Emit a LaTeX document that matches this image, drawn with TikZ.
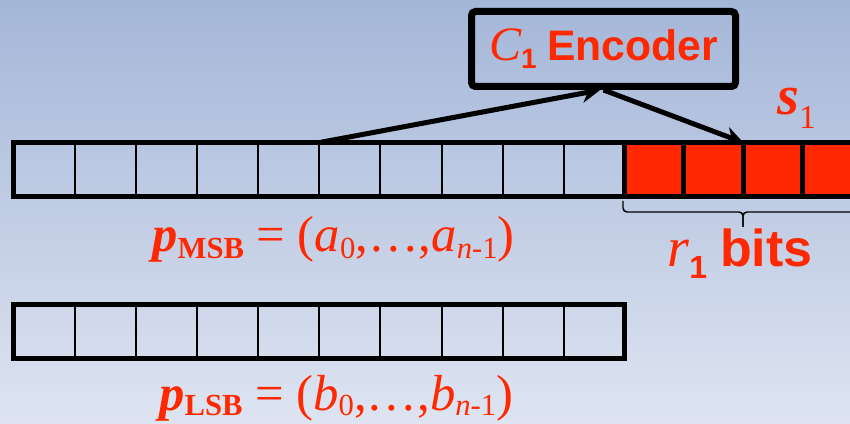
\documentclass[tikz,border=0pt]{standalone}
\usepackage{fontspec}
\setmainfont{Liberation Serif}
\setsansfont{Liberation Sans}
\usetikzlibrary{arrows.meta,positioning}
\definecolor{slideTop}{RGB}{164,182,216}
\definecolor{slideBottom}{RGB}{222,228,241}
\definecolor{bitRed}{RGB}{255,40,0}
% lowered index: shift, size, text
\newcommand{\lowsub}[3]{\raisebox{-#1}{\fontsize{#2}{#2}\selectfont #3}}

\begin{document}
\begin{tikzpicture}[
  x=0.75pt, y=-0.75pt,
  cell/.style={
    draw,
    line width=1.5pt,
    minimum width=45.8pt,
    minimum height=40.1pt,
    inner sep=0pt,
    outer sep=0pt
  },
  redcell/.style={cell,fill=bitRed,line width=3.75pt,minimum width=44.5pt},
  frame/.style={line width=3.75pt},
  encbox/.style={
    draw,
    line width=5.25pt,
    rounded corners=3pt,
    minimum width=198pt,
    minimum height=56.25pt,
    inner sep=0pt,
    text=bitRed
  },
  lbl/.style={text=bitRed,inner sep=0pt},
  bracket/.style={line width=1.1pt,rounded corners=3pt},
  arrow/.style={-{Stealth[length=14pt,width=14pt]},line width=3.75pt}
]
  \shade[top color=slideTop,bottom color=slideBottom] (0,0) rectangle (850,424);
  \useasboundingbox (0,0) rectangle (850,424);

  % MSB row, LSB row
  \foreach \i in {0,...,9} {
    \node[cell] (m\i) at ({44.4+61.1*\i},169.3) {};
    \node[cell] (l\i) at ({44.4+61.1*\i},331.5) {};
  }
  \draw[frame] (m9.north east) -- (m0.north west) -- (m0.south west) -- (m9.south east);
  \draw[frame] (l0.north west) rectangle (l9.south east);
  \foreach \i in {1,...,4}
    \node[redcell] (r\i) at ({624.7+59.3*(\i-0.5)},169.3) {};

  \node[encbox] (enc) at (603.5,49)
    {\fontsize{32}{36}\selectfont{\fontsize{36}{36}\selectfont\itshape C}\lowsub{6pt}{21}{\sffamily\bfseries 1} \sffamily\bfseries Encoder};
  \draw[arrow] (m4.north east) -- ([xshift=-2.5pt]enc.south);
  \draw[arrow] (enc.south) -- (r2.north east);

  \node[lbl,anchor=base west] (sone) at (777,115)
    {\fontsize{42}{46}\selectfont{\bfseries\itshape s}\lowsub{10pt}{25}{1}};

  \coordinate (tip) at (743,227);
  \draw[bracket] (623,201) |- (743,212) -- (tip);
  \draw[bracket] (880,201) |- (743,212) -- (tip);
  \node[lbl,anchor=base] (rbits) at (740,267)
    {\fontsize{39}{42}\selectfont{\fontsize{42}{42}\selectfont\itshape r}\lowsub{9pt}{24}{\sffamily\bfseries 1} {\sffamily\bfseries bits}};

  \node[lbl,anchor=base west] (pmsb) at (152,252)
    {\fontsize{38}{42}\selectfont{\bfseries\itshape p}\lowsub{5pt}{23}{\bfseries MSB} = ({\itshape a}\lowsub{5pt}{23}{0},\ldots,{\itshape a}\lowsub{5pt}{23}{{\itshape n}-1})};
  \node[lbl,anchor=base west] (plsb) at (159,410)
    {\fontsize{38}{42}\selectfont{\bfseries\itshape p}\lowsub{4pt}{23}{\bfseries LSB} = ({\itshape b}\lowsub{4pt}{23}{0},\ldots,{\itshape b}\lowsub{4pt}{23}{{\itshape n}-1})};
\end{tikzpicture}
\end{document}
